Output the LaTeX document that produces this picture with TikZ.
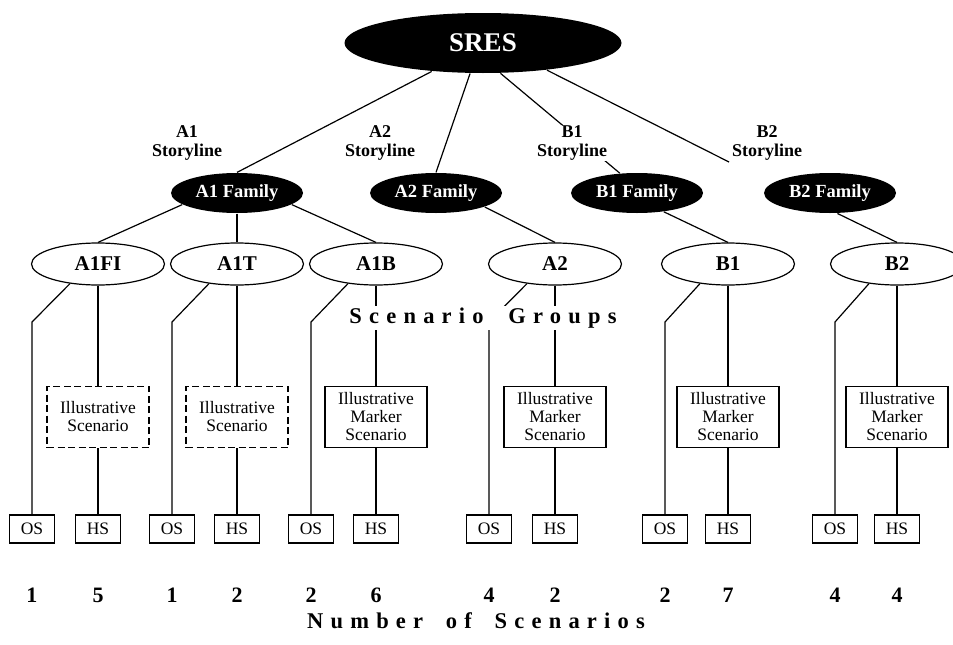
\documentclass[tikz,border=0pt]{standalone}
\usepackage{fontspec}
\setmainfont{Liberation Serif}
\newfontfamily\spacedfont[LetterSpace=32]{Liberation Serif}
\usetikzlibrary{shapes,positioning}

\tikzset{
  familynode/.style={ellipse, fill=black, text=white, minimum width=132pt, minimum height=40pt, inner sep=0pt, font=\bfseries\fontsize{18.5}{20}\selectfont},
  groupnode/.style={ellipse, draw, fill=white, minimum width=133pt, minimum height=42pt, inner sep=0pt, font=\bfseries\fontsize{21}{22}\selectfont},
  storylabel/.style={align=center, fill=white, inner sep=1pt, font=\bfseries\fontsize{18}{18.5}\selectfont},
  illbox/.style={rectangle, draw, minimum width=102pt, minimum height=61pt, inner sep=0pt, align=center, font=\fontsize{17.5}{18}\selectfont},
  dashbox/.style={illbox, dash pattern=on 7pt off 3.5pt},
  smallbox/.style={rectangle, draw, minimum width=45pt, minimum height=28pt, inner sep=0pt, font=\fontsize{17.5}{18}\selectfont},
  count/.style={font=\bfseries\fontsize{22}{24}\selectfont},
  spaced/.style={fill=white, inner sep=2pt, font=\spacedfont\bfseries\fontsize{22.5}{24}\selectfont}
}

\begin{document}
\begin{tikzpicture}[x=1pt, y=-1pt, line width=1.2pt]
    \useasboundingbox (0,0) rectangle (953,645);

    % top and families
    \node (sres) [ellipse, fill=black, text=white, minimum width=277pt, minimum height=60pt, inner sep=0pt, font=\bfseries\fontsize{27}{30}\selectfont] at (483,43) {SRES};
    \node (a1fam) [familynode] at (237,193) {A1 Family};
    \node (a2fam) [familynode] at (436,193) {A2 Family};
    \node (b1fam) [familynode] at (637,193) {B1 Family};
    \node (b2fam) [familynode] at (830,193) {B2 Family};
    \coordinate (b2end) at (729,162);
    \coordinate (bend) at (0,322);

    \draw (sres.-151) -- (a1fam.north);
    \draw (sres.-113) -- (a2fam.north);
    \draw (sres.-60) -- (b1fam.131);
    \draw (sres.-23) -- (b2end);

    % scenario groups
    \foreach \g/\gx/\ox/\txt/\kind/\boxtxt/\nos/\nhs in {
        a1fi/98/32/A1FI/dashbox/{Illustrative\\Scenario}/1/5,
        a1t/237/172/A1T/dashbox/{Illustrative\\Scenario}/1/2,
        a1b/376/311/A1B/illbox/{Illustrative\\Marker\\Scenario}/2/6,
        a2/555/489/A2/illbox/{Illustrative\\Marker\\Scenario}/4/2,
        b1/728/665/B1/illbox/{Illustrative\\Marker\\Scenario}/2/7,
        b2/897/835/B2/illbox/{Illustrative\\Marker\\Scenario}/4/4} {
        \node (\g) [groupnode] at (\gx,264) {\txt};
        \node (\g-box) [\kind] at (\gx,417) {\boxtxt};
        \node (\g-hs) [smallbox] at (\gx,529) {HS};
        \node (\g-os) [smallbox] at (\ox,529) {OS};
        \node (\g-nos) [count] at (\ox,595) {\nos};
        \node (\g-nhs) [count] at (\gx,595) {\nhs};
        \draw (\g.south) -- (\g-box.north);
        \draw (\g-box.south) -- (\g-hs.north);
        \draw (\g.-145) -- (\g-os |- bend) -- (\g-os.north);
    }

    \draw (a1fam.-168) -- (a1fi.north);
    \draw (a1fam.south) -- (a1t.north);
    \draw (a1fam.-12) -- (a1b.north);
    \draw (a2fam.-16) -- (a2.north);
    \draw (b1fam.-35) -- (b1.north);
    \draw (b2fam.-70) -- (b2.north);

    % labels
    \node (a1story) [storylabel] at (187,143) {A1\\Storyline};
    \node (a2story) [storylabel] at (380,143) {A2\\Storyline};
    \node (b1story) [storylabel] at (572,143) {B1\\Storyline};
    \node (b2story) [storylabel] at (767,143) {B2\\Storyline};
    \node (groups) [spaced] at (483,318) {Scenario\hspace{12pt} Groups};
    \node (numbers) [spaced, fill=none] at (476,621) {Number\hspace{10pt} of\hspace{10pt} Scenarios};
\end{tikzpicture}
\end{document}
